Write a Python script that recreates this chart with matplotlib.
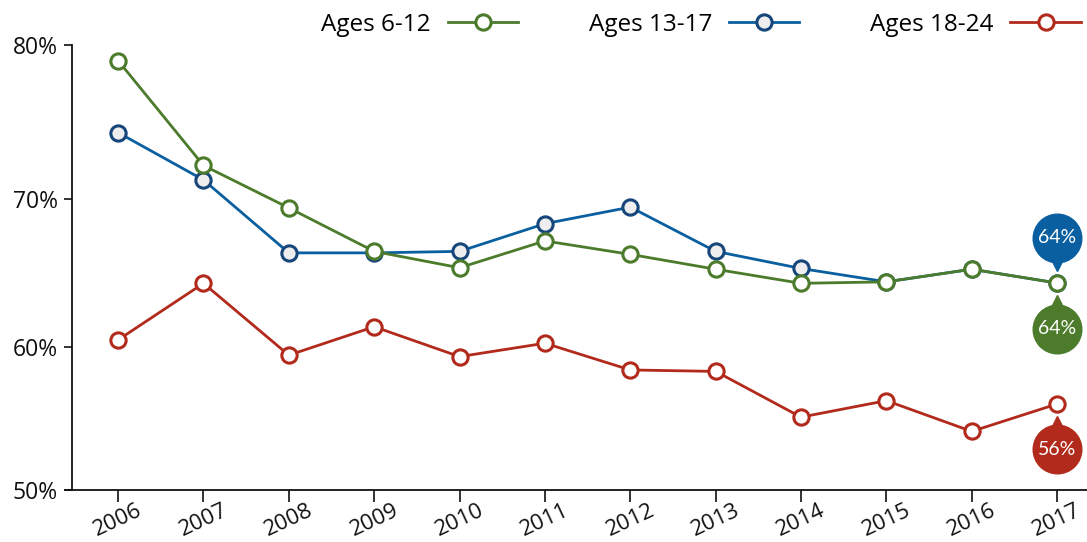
import numpy as np
import matplotlib
matplotlib.use("Agg")
from matplotlib import pyplot as plt
from matplotlib.transforms import offset_copy

plt.rcParams['font.family'] = ['Open Sans', 'DejaVu Sans']

# data (percent)
years = np.arange(2006, 2018)
ages_6_12 = [79.0, 72.2, 69.4, 66.5, 65.4, 67.2, 66.3, 65.3, 64.35, 64.45, 65.3, 64.37]
ages_13_17 = [74.35, 71.25, 66.4, 66.4, 66.5, 68.35, 69.45, 66.5, 65.35, 64.45, 65.3, 64.37]
ages_18_24 = [60.5, 64.35, 59.45, 61.4, 59.35, 60.27, 58.43, 58.33, 55.15, 56.3, 54.15, 56.07]
series_names = ["Ages 6-12", "Ages 13-17", "Ages 18-24"]
end_labels = ["64%", "64%", "56%"]
yticks = [50, 60, 70, 80]

green = "#4b7b2b"
blue = "#0a5fa0"
blue_edge = "#17477a"
red = "#b22a1c"

# the source axis is slightly stretched towards the top
B, C = 14.83, 0.0275
def fwd(v):
    u = np.asarray(v, dtype=float) - 65
    return B * u + C * u**2
def inv(g):
    g = np.asarray(g, dtype=float)
    return 65 + (-B + np.sqrt(np.maximum(B**2 + 4 * C * g, 0))) / (2 * C)

fig = plt.figure(figsize=(10.87, 5.42), dpi=100)
ax = fig.add_axes([72/1087, 52/542, 1015/1087, 445/542])
ax.set_yscale('function', functions=(fwd, inv))

lw = 2.0
ax.plot(years, ages_18_24, '-o', color=red, lw=lw, ms=11, mew=2.2, mfc='white', mec=red, clip_on=False, zorder=3)
ax.plot(years, ages_13_17, '-o', color=blue, lw=lw, ms=11, mew=2.2, mfc='#eeeeee', mec=blue_edge, clip_on=False, zorder=3)
ax.plot(years, ages_6_12, '-o', color=green, lw=lw, ms=11, mew=2.2, mfc='white', mec=green, clip_on=False, zorder=4)

ax.set_xlim(2005.46, 2017.35)
ax.set_ylim(50, 80)
ax.set_yticks(yticks)
ax.set_yticklabels([f"{t}%" for t in yticks])
ax.set_xticks(years)
ax.set_xticklabels([str(y) for y in years], rotation=25, ha='center')

for s in ['top', 'right']:
    ax.spines[s].set_visible(False)
for s in ['left', 'bottom']:
    ax.spines[s].set_linewidth(1.3)
    ax.spines[s].set_color('#111111')
ax.tick_params(axis='y', length=6, width=1.2, pad=4, labelsize=16.5, colors='#111111')
ax.tick_params(axis='x', length=8.5, width=1.2, pad=-1, labelsize=16, colors='#111111')
ax.spines['bottom'].set_bounds(2005.46 - 7/85.36, 2017.35)
ax.spines['bottom'].set_clip_on(False)

# end-of-line bubbles
ends = [(ages_13_17[-1], blue, 1, end_labels[1]),
        (ages_6_12[-1], green, -1, end_labels[0]),
        (ages_18_24[-1], red, -1, end_labels[2])]
for val, col, d, lab in ends:
    tc = offset_copy(ax.transData, fig=fig, x=0, y=d * 45.5 * 0.72, units='points')
    ax.plot(years[-1], val, 'o', ms=35, color=col, mec=col, transform=tc, clip_on=False, zorder=5)
    tt = offset_copy(ax.transData, fig=fig, x=0, y=d * 18 * 0.72, units='points')
    ax.plot(years[-1], val, 'v' if d > 0 else '^', ms=9, color=col, mec=col, transform=tt, clip_on=False, zorder=5)
    ax.annotate(lab, xy=(years[-1], val), xytext=(0, d * 45.5 * 0.72), textcoords='offset points',
                ha='center', va='center', color='white', fontsize=14, family=['Lato', 'DejaVu Sans'], zorder=6)

# legend, text before the marker
handles = [plt.Line2D([], [], color=c, lw=lw, marker='o', ms=11, mew=2.2, mfc=f, mec=e)
           for c, f, e in [(green, 'white', green), (blue, '#eeeeee', blue_edge), (red, 'white', red)]]
fig.legend(handles, series_names, loc='center left', bbox_to_anchor=(321/1087, 1 - 25/542),
           ncol=3, frameon=False, markerfirst=False, fontsize=17.5, handlelength=2.9,
           handletextpad=0.7, columnspacing=2.9, borderpad=0, borderaxespad=0)

plt.savefig('out.png', dpi=100)
